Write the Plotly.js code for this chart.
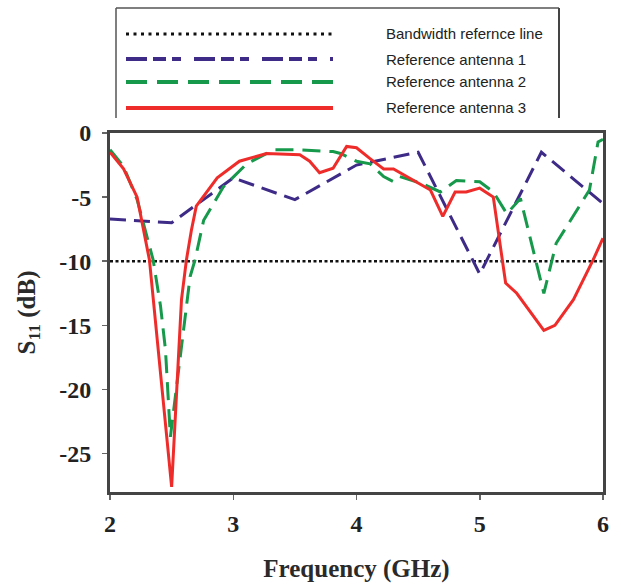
<!DOCTYPE html>
<html>
<head>
<meta charset="utf-8">
<script src="https://cdn.plot.ly/plotly-3.0.1.min.js"></script>
<style>html,body{margin:0;padding:0;background:#fff;}#chart{width:621px;height:585px;}</style>
</head>
<body>
<div id="chart"></div>
<script>
// ---- data ----
const refFreq = [2, 6];
const refS11 = [-10, -10];

const freq1 = [2.0, 2.5, 3.0, 3.5, 4.0, 4.5, 5.0, 5.5, 6.0];
const s11Ant1 = [-6.7, -7.0, -3.5, -5.2, -2.5, -1.5, -11.0, -1.5, -5.5];

const freq2 = [2.0, 2.11, 2.22, 2.35, 2.41, 2.45, 2.49, 2.61, 2.65, 2.69, 2.76, 2.92, 3.11, 3.33, 3.49, 3.81, 3.87, 4.0, 4.11, 4.22, 4.30, 4.35, 4.52, 4.68, 4.81, 5.0, 5.11, 5.22, 5.33, 5.52, 5.62, 5.89, 5.96, 6.0];
const s11Ant2 = [-1.3, -2.6, -5.2, -9.9, -13.5, -16.9, -23.7, -14.6, -11.2, -9.9, -6.8, -4.2, -2.4, -1.3, -1.3, -1.45, -1.6, -2.2, -2.4, -3.4, -3.8, -3.4, -3.9, -4.6, -3.7, -3.8, -4.6, -6.3, -5.1, -12.5, -8.6, -4.45, -0.7, -0.5];

const freq3 = [2.0, 2.11, 2.22, 2.32, 2.50, 2.58, 2.62, 2.66, 2.70, 2.87, 3.05, 3.27, 3.54, 3.62, 3.70, 3.81, 3.92, 4.0, 4.11, 4.22, 4.30, 4.41, 4.60, 4.70, 4.80, 4.89, 5.0, 5.11, 5.21, 5.30, 5.52, 5.61, 5.76, 5.92, 6.0];
const s11Ant3 = [-1.5, -2.8, -5.0, -9.9, -27.6, -13.0, -9.9, -7.6, -5.7, -3.5, -2.2, -1.6, -1.7, -2.2, -3.1, -2.75, -1.05, -1.15, -2.0, -2.8, -2.8, -3.4, -4.45, -6.5, -4.6, -4.6, -4.3, -5.0, -11.7, -12.5, -15.4, -15.0, -13.0, -9.9, -8.2];

const seriesNames = ['Bandwidth refernce line', 'Reference antenna 1', 'Reference antenna 2', 'Reference antenna 3'];
const xTickVals = [2, 3, 4, 5, 6];
const xTickText = ['2', '3', '4', '5', '6'];
const yTickVals = [0, -5, -10, -15, -20, -25];
const yTickText = ['0', '-5', '-10', '-15', '-20', '-25'];

// ---- styles ----
const colors = ['#111111', '#3d2b87', '#16994a', '#ee2d2b'];
const plotDash = ['3px,2.5px', '16px,8px', '18px,9px', 'solid'];
const legendDash = ['3px,4.5px', '21px,6px,13px,6px,9px,13px', '21px,10px', 'solid'];
const widths = [2.5, 3, 3, 3];

const traces = [
  {x: refFreq, y: refS11},
  {x: freq1, y: s11Ant1},
  {x: freq2, y: s11Ant2},
  {x: freq3, y: s11Ant3}
].map((t, i) => ({
  x: t.x, y: t.y, type: 'scatter', mode: 'lines', name: seriesNames[i],
  line: {color: colors[i], width: widths[i], dash: plotDash[i]},
  showlegend: false, hoverinfo: 'skip'
}));

// plot area in pixels: x 110..603, y 133..492
const L = 110, R = 603, T = 133, B = 492;
const px = v => (v - L) / (R - L);
const py = v => (B - v) / (B - T);

const shapes = [];
const annotations = [];
const boxStyle = {color: '#555', width: 1.5};
shapes.push({type: 'line', xref: 'paper', yref: 'paper', x0: px(116), x1: px(116), y0: py(8), y1: py(118), line: boxStyle});
shapes.push({type: 'line', xref: 'paper', yref: 'paper', x0: px(116), x1: px(559), y0: py(8), y1: py(8), line: boxStyle});
shapes.push({type: 'line', xref: 'paper', yref: 'paper', x0: px(559), x1: px(559), y0: py(8), y1: py(118), line: {color: '#444', width: 2}});
const rowsY = [34, 59, 82, 108];
seriesNames.forEach((n, i) => {
  shapes.push({type: 'line', xref: 'paper', yref: 'paper', x0: px(126), x1: px(333), y0: py(rowsY[i]), y1: py(rowsY[i]),
    line: {color: colors[i], width: i === 0 ? 3 : 4, dash: legendDash[i]}});
  annotations.push({xref: 'paper', yref: 'paper', x: px(384), y: py(rowsY[i]), xanchor: 'left', yanchor: 'middle',
    text: n, showarrow: false, font: {family: "'Liberation Sans', Arial, sans-serif", size: 15, color: '#222'}});
});

const serif = "'Liberation Serif', 'Times New Roman', Times, serif";
const tickFont = {family: serif, size: 24, color: '#222', weight: 'bold'};
const titleFont = {family: serif, size: 25, color: '#2a2a2a', weight: 'bold'};

const layout = {
  width: 621, height: 585,
  margin: {l: L, r: 621 - R, t: T, b: 585 - B, pad: 0},
  paper_bgcolor: '#fff', plot_bgcolor: '#fff',
  showlegend: false,
  xaxis: {
    range: [2, 6], tickvals: xTickVals, ticktext: xTickText,
    ticks: 'outside', ticklen: 5, tickwidth: 1.5, tickcolor: '#666',
    showline: true, linewidth: 3, linecolor: '#444', mirror: true,
    showgrid: false, zeroline: false, tickfont: tickFont, ticklabelstandoff: 3,
    title: {text: 'Frequency (GHz)', font: titleFont, standoff: 24}
  },
  yaxis: {
    range: [-28, 0], tickvals: yTickVals, ticktext: yTickText,
    ticks: 'outside', ticklen: 5, tickwidth: 1.5, tickcolor: '#666',
    showline: true, linewidth: 3, linecolor: '#444', mirror: true,
    showgrid: false, zeroline: false, tickfont: tickFont, ticklabelstandoff: 6,
    title: {text: 'S<sub>11</sub> (dB)', font: titleFont, standoff: 17}
  },
  shapes: shapes,
  annotations: annotations
};

Plotly.newPlot('chart', traces, layout, {displayModeBar: false, staticPlot: true});
</script>
</body>
</html>
